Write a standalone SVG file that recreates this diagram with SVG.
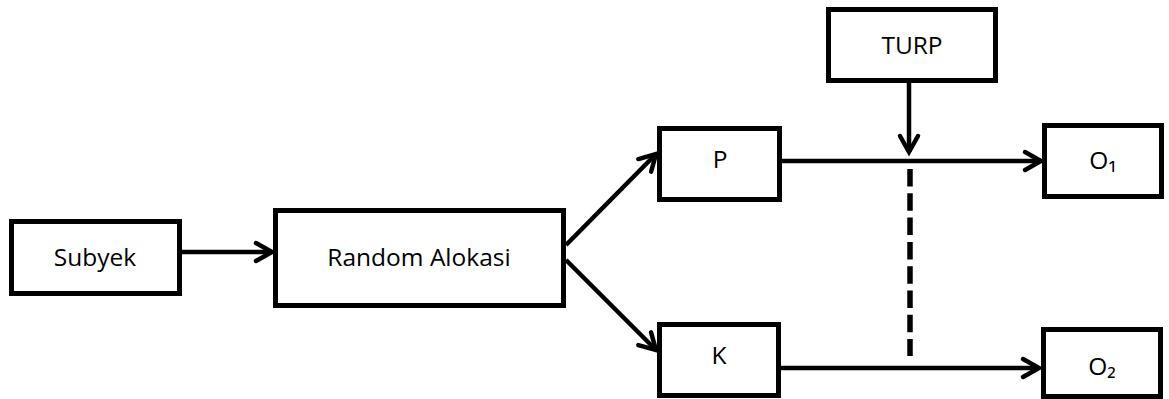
<svg xmlns="http://www.w3.org/2000/svg" width="1169" height="399" viewBox="0 0 1169 399">
<style>
.box{fill:#fff;stroke:#000;stroke-width:5}
.lbl{font-family:"Open Sans","Noto Sans","DejaVu Sans",sans-serif;font-size:24.5px;fill:#000;text-anchor:middle}
.con{stroke:#000;stroke-width:4.5;fill:none}
</style>
<defs>
<marker id="arr" markerUnits="userSpaceOnUse" markerWidth="24" markerHeight="24" refX="19" refY="11" orient="auto" overflow="visible">
<path d="M3,2 L19,11 L3,20" fill="none" stroke="#000" stroke-width="4.5" stroke-linecap="round" stroke-linejoin="miter"/>
</marker>
</defs>
<g id="connectors">
<line class="con" x1="182" y1="252" x2="272" y2="252" marker-end="url(#arr)"/>
<line class="con" x1="566" y1="245" x2="656" y2="154" marker-end="url(#arr)"/>
<line class="con" x1="566" y1="260" x2="656" y2="350" marker-end="url(#arr)"/>
<line class="con" x1="909" y1="83" x2="909" y2="152" marker-end="url(#arr)"/>
<line class="con" x1="782" y1="161" x2="1041" y2="161" marker-end="url(#arr)"/>
<line class="con" x1="781" y1="368" x2="1039" y2="368" marker-end="url(#arr)"/>
<line x1="910" y1="169" x2="910" y2="356" stroke="#000" stroke-width="5.5" stroke-dasharray="17.5 6.8"/>
</g>
<g id="subyek">
<rect class="box" x="11.5" y="221.5" width="168" height="72"/>
<text class="lbl" x="95" y="266">Subyek</text>
</g>
<g id="random">
<rect class="box" x="275.5" y="210.5" width="288" height="95"/>
<text class="lbl" x="419" y="266">Random Alokasi</text>
</g>
<g id="p">
<rect class="box" x="659.5" y="128.5" width="120" height="71"/>
<text class="lbl" x="720" y="168">P</text>
</g>
<g id="k">
<rect class="box" x="659.5" y="324.5" width="119" height="71"/>
<text class="lbl" x="719" y="364">K</text>
</g>
<g id="turp">
<rect class="box" x="828.5" y="9.5" width="167" height="71"/>
<text class="lbl" x="912" y="54">TURP</text>
</g>
<g id="o1">
<rect class="box" x="1044.5" y="125.5" width="117" height="71"/>
<text class="lbl" x="1103" y="169">O₁</text>
</g>
<g id="o2">
<rect class="box" x="1043.5" y="329.5" width="117" height="67"/>
<text class="lbl" x="1102" y="375">O₂</text>
</g>
</svg>
